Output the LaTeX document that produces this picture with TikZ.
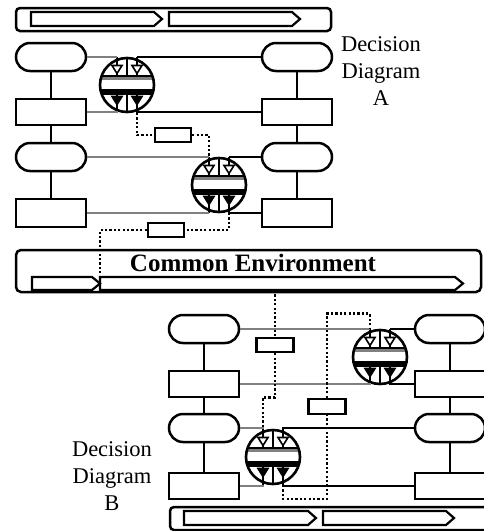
\documentclass[tikz,border=0pt]{standalone}
\usepackage{fontspec}
\setmainfont{Liberation Serif}
\definecolor{linegray}{gray}{0.5}
% pentagon-shaped flow arrow: left x, tip x, top y, bottom y
\newcommand\flowarrow[4]{%
  \draw[line width=2.2pt] (#1,#3) -- ({#2-8},#3) -- (#2,{(#3+#4)/2}) -- ({#2-8},#4) -- (#1,#4) -- cycle;}
\begin{document}
\begin{tikzpicture}[x=1pt,y=-1pt,line width=2.5pt,
  pill/.style={draw,fill=white,rounded corners=14,minimum width=70pt,minimum height=28pt,inner sep=0pt},
  blk/.style={draw,fill=white,minimum width=70pt,minimum height=26pt,inner sep=0pt},
  tag/.style={draw,fill=white,minimum width=36pt,minimum height=14pt,inner sep=0pt},
  gline/.style={draw=linegray,line width=2.5pt},
  kline/.style={draw=black,line width=2.5pt},
  dots/.style={line width=2.6pt,dash pattern=on 2.2pt off 2.2pt},
  label/.style={align=center,inner sep=0pt,font=\fontsize{22.5}{27}\selectfont},
  junction/.pic={
    \fill[white] (0,0) circle (27);
    \begin{scope}
      \clip (0,0) circle (27);
      \fill[linegray] (-28,-9.5) rectangle (28,-5);
      \draw[line width=2.2pt] (-28,-9) -- (28,-9);
      \fill[black] (-28,4) rectangle (28,9.5);
    \end{scope}
    \draw[line width=2.2pt] (0,-27) -- (0,-9) (0,9) -- (0,27);
    \draw[line width=2.2pt] (-10,-28) -- (-10,-9) (10,-28) -- (10,-9)
                            (-10,9) -- (-10,28) (10,9) -- (10,28);
    \foreach \s in {-10,10}{
      \filldraw[fill=white,line width=1.6pt] (\s-5,-19.5) -- (\s+5,-19.5) -- (\s,-11.5) -- cycle;
      \filldraw[line width=1.6pt] (\s-5,11.5) -- (\s+5,11.5) -- (\s,19.5) -- cycle;
    }
    \draw[line width=2.6pt] (0,0) circle (27);
    \coordinate (-ti1) at (-10,-28);
    \coordinate (-ti2) at (10,-28);
    \coordinate (-bo1) at (-10,28);
    \coordinate (-bo2) at (10,28);
  }]
\useasboundingbox (0,0) rectangle (483,531);

% ---------- Decision Diagram A ----------
\draw[rounded corners=4] (16,8) rectangle (331,31);
\flowarrow{31}{162}{12}{26}
\flowarrow{169}{300}{12}{26}

\node[pill] (pA1) at (51,57) {};
\node[blk]  (rA1) at (51,112) {};
\node[pill] (pA2) at (51,157) {};
\node[blk,minimum height=28pt] (rA2) at (51,213) {};
\node[pill] (pA3) at (297,57) {};
\node[blk]  (rA3) at (297,112) {};
\node[pill] (pA4) at (297,157) {};
\node[blk,minimum height=28pt] (rA4) at (297,213) {};
\draw (pA1) -- (rA1) -- (pA2) -- (rA2);
\draw (pA3) -- (rA3) -- (pA4) -- (rA4);

\pic (A1) at (127,85) {junction};
\pic (A2) at (219,185) {junction};

\draw[gline] (pA1.east) -| (A1-ti1);
\draw[kline] (pA3.west) -| (A1-ti2);
\draw[gline] (rA1.east) -| (A1-bo1);
\draw[kline] (rA3.west) -| (A1-bo2);
\draw[gline] (pA2.east) -| (A2-ti1);
\draw[kline] (pA4.west) -| (A2-ti2);
\draw[gline] (rA2.east) -| (A2-bo1);
\draw[kline] (rA4.west) -| (A2-bo2);

\node[tag] (bA1) at (173,135) {};
\node[tag] (bA2) at (166,230) {};

\node[label] (labA) at (381,71.3) {Decision\\Diagram\\A};

% ---------- Common Environment ----------
\draw[rounded corners=5] (16,250) rectangle (481,292);
\flowarrow{32}{100}{277}{290}
\flowarrow{100}{463}{277}{290}
\coordinate (envIn) at (100,277);
\coordinate (envOut) at (275,290);
\node[inner sep=0pt,anchor=base,font=\fontsize{25}{30}\selectfont\bfseries] (env) at (253,271) {Common Environment};

\draw[dots] (A1-bo2) |- (bA1.west);
\draw[dots] (bA1.east) -| (A2-ti1);
\draw[dots] (A2-bo2) |- (bA2.east);
\draw[dots] (bA2.west) -| (envIn);

% ---------- Decision Diagram B ----------
\draw[rounded corners=4] (170,507) rectangle (495,530);
\flowarrow{184}{316}{511}{525}
\flowarrow{323}{454}{511}{525}

\node[pill] (pB1) at (204,329) {};
\node[blk]  (rB1) at (204,384) {};
\node[pill] (pB2) at (204,428) {};
\node[blk]  (rB2) at (204,486) {};
\node[pill] (pB3) at (450,329) {};
\node[blk]  (rB3) at (450,384) {};
\node[pill] (pB4) at (450,428) {};
\node[blk]  (rB4) at (450,486) {};
\draw (pB1) -- (rB1) -- (pB2) -- (rB2);
\draw (pB3) -- (rB3) -- (pB4) -- (rB4);

\pic (B1) at (380,357) {junction};
\pic (B2) at (273,457) {junction};

\draw[gline] (pB1.east) -| (B1-ti1);
\draw[kline] (pB3.west) -| (B1-ti2);
\draw[gline] (rB1.east) -| (B1-bo1);
\draw[kline] (rB3.west) -| (B1-bo2);
\draw[gline] (pB2.east) -| (B2-ti1);
\draw[kline] (pB4.west) -| (B2-ti2);
\draw[gline] (rB2.east) -| (B2-bo1);
\draw[kline] (rB4.west) -| (B2-bo2);

\node[tag,minimum width=37pt] (bB1) at (275,345) {};
\node[tag,minimum width=37pt,minimum height=15pt] (bB2) at (327,406.5) {};

\draw[dots] (envOut) -- (bB1.north);
\draw[dots] (bB1.south) -- ++(0,44) -| (B2-ti1);
\draw[dots] (B2-bo2) -- ++(0,14) -| (bB2.south);
\draw[dots] (bB2.north) -- ++(0,-84) -| (B1-ti1);

\node[label] (labB) at (112,476.3) {Decision\\Diagram\\B};
\end{tikzpicture}
\end{document}
